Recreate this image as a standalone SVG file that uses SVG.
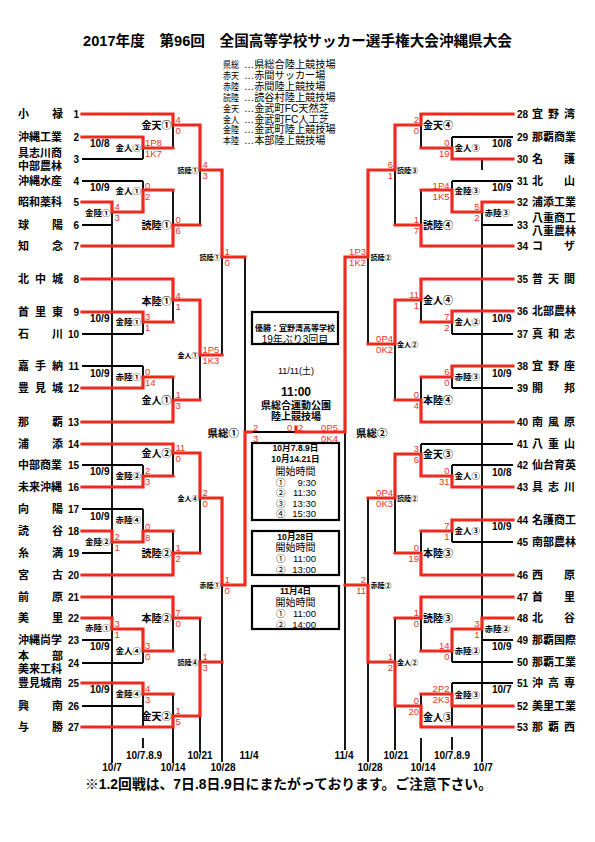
<svg xmlns="http://www.w3.org/2000/svg" width="595" height="842" viewBox="0 0 595 842">
<style>
text{font-family:"Liberation Sans","Noto Sans CJK JP",sans-serif;dominant-baseline:central;fill:#000}
.nm{font-size:11px;font-weight:bold}
.no{font-size:10px;font-weight:bold}
.s{font-size:9.5px;fill:#ee3326}
.s.e{text-anchor:end}
.v1{font-size:10px;font-weight:bold}
.v2{font-size:8.5px;font-weight:bold}
.v3{font-size:7px;font-weight:bold}
.dt{font-size:10px;font-weight:bold}
.lg{font-size:10.2px}
.lgl{font-size:9.5px}
.ctr{text-anchor:middle}
.end{text-anchor:end}
.k{stroke:#000;stroke-width:1.8;fill:none}
.r{stroke:#ee2a1e;stroke-width:3.2;fill:none;stroke-linecap:square;stroke-linejoin:miter}
.bx{fill:#fff;stroke:#000;stroke-width:2.2}
</style>
<rect width="595" height="842" fill="#fff"/>
<g id="title"><text x="83" y="41" font-size="14.5" font-weight="bold" textLength="429" lengthAdjust="spacingAndGlyphs">2017年度　第96回　全国高等学校サッカー選手権大会沖縄県大会</text></g>
<g id="legend">
<text class="lgl" x="223" y="64.5" textLength="16" lengthAdjust="spacingAndGlyphs">県総</text><text class="lg" x="244" y="64.5">…県総合陸上競技場</text>
<text class="lgl" x="223" y="75.4" textLength="16" lengthAdjust="spacingAndGlyphs">赤天</text><text class="lg" x="244" y="75.4">…赤間サッカー場</text>
<text class="lgl" x="223" y="86.3" textLength="16" lengthAdjust="spacingAndGlyphs">赤陸</text><text class="lg" x="244" y="86.3">…赤間陸上競技場</text>
<text class="lgl" x="223" y="97.2" textLength="16" lengthAdjust="spacingAndGlyphs">読陸</text><text class="lg" x="244" y="97.2">…読谷村陸上競技場</text>
<text class="lgl" x="223" y="108.1" textLength="16" lengthAdjust="spacingAndGlyphs">金天</text><text class="lg" x="244" y="108.1">…金武町FC天然芝</text>
<text class="lgl" x="223" y="119" textLength="16" lengthAdjust="spacingAndGlyphs">金人</text><text class="lg" x="244" y="119">…金武町FC人工芝</text>
<text class="lgl" x="223" y="129.9" textLength="16" lengthAdjust="spacingAndGlyphs">金陸</text><text class="lg" x="244" y="129.9">…金武町陸上競技場</text>
<text class="lgl" x="223" y="140.8" textLength="16" lengthAdjust="spacingAndGlyphs">本陸</text><text class="lg" x="244" y="140.8">…本部陸上競技場</text>
</g>
<g id="connectors">
<path class="k" d="M82 159H143M82 181H143M82 225H112M82 334H143M82 366H143M82 465H143M82 509H143M82 553H112M82 640H112M82 663H143M82 706H143
M112 202V763
M143 148V159M143 181V190M143 322V334M143 366V377M143 465V476M143 509V531M143 651V663M143 694V727M143 738V748
M173 125V148M173 190V225M173 300V322M173 377V400M173 453V476M173 531V553M173 618V651M173 694V716M173 727V763
M200 170V225M200 355V400M200 498V553M200 618V662M200 716V752
M222 257V355M222 585V762
M245 257V432M245 432H296"/>
<path class="k" d="M452 137H513M452 181H513M482 225H513M452 334H513M452 388H513M421 444H513M452 465H513M452 542H513M482 640H513M452 662H513M452 683H513
M482 159V170M482 202V762
M452 137V148M452 181V190M452 322V334M452 377V388M452 465V476M452 531V542M452 651V662M452 683V694M452 706V727M452 737V750
M421 125V148M421 190V225M421 300V322M421 377V400M421 444V454M421 531V553M421 618V651M421 694V706M421 738V762
M395 170V225M395 344V400M395 498V553M395 618V662M395 706V750
M368 257V344M368 498V585M368 662V762
M345 432V750"/>
<path class="r" d="M82 114H173V125H200V170H222V257H245
M82 137H143V148H173
M82 202H112V212H143V190H173
M82 246H173V225H200
M82 279H173V300H200V355H222
M82 312H143V322H173
M82 388H143V377H173
M82 422H173V400H200
M82 444H173V453H200V498H222V585H245V432H251
M82 487H143V476H173
M82 531H112V542H143V531H173
M82 575H173V553H200
M82 597H173V618H200
M82 618H112V629H143V651H173
M82 683H143V694H173
M82 727H173V716H200V662H222"/>
<path class="r" d="M513 114H421V125H395V170H368V257H345V432H296V427
M513 159H452V148H421
M513 202H482V212H452V190H421
M513 246H421V225H395
M513 279H421V300H395V344H368
M513 311H452V322H421
M513 366H452V377H421
M513 422H421V400H395
M513 487H452V476H421V454H395V498H368
M513 520H452V531H421
M513 575H421V553H395
M513 597H421V618H395
M513 618H482V629H452V651H421
M513 706H452V694H421
M513 727H421V706H395V662H368V585H345"/>
</g>
<g id="team-1"><text class="nm" x="18 52" y="114">小禄</text><text class="no end" x="79" y="114">1</text></g>
<g id="team-2"><text class="nm" x="18" y="137">沖縄工業</text><text class="no end" x="79" y="137">2</text></g>
<g id="team-3"><text class="nm" x="18" y="153">具志川商</text><text class="nm" x="18" y="166">中部農林</text><text class="no end" x="79" y="159">3</text></g>
<g id="team-4"><text class="nm" x="18" y="181">沖縄水産</text><text class="no end" x="79" y="181">4</text></g>
<g id="team-5"><text class="nm" x="18" y="202">昭和薬科</text><text class="no end" x="79" y="202">5</text></g>
<g id="team-6"><text class="nm" x="18 52" y="225">球陽</text><text class="no end" x="79" y="225">6</text></g>
<g id="team-7"><text class="nm" x="18 52" y="246">知念</text><text class="no end" x="79" y="246">7</text></g>
<g id="team-8"><text class="nm" x="18 35 52" y="279">北中城</text><text class="no end" x="79" y="279">8</text></g>
<g id="team-9"><text class="nm" x="18 35 52" y="312">首里東</text><text class="no end" x="79" y="312">9</text></g>
<g id="team-10"><text class="nm" x="18 52" y="334">石川</text><text class="no end" x="79" y="334">10</text></g>
<g id="team-11"><text class="nm" x="18 35 52" y="366">嘉手納</text><text class="no end" x="79" y="366">11</text></g>
<g id="team-12"><text class="nm" x="18 35 52" y="388">豊見城</text><text class="no end" x="79" y="388">12</text></g>
<g id="team-13"><text class="nm" x="18 52" y="422">那覇</text><text class="no end" x="79" y="422">13</text></g>
<g id="team-14"><text class="nm" x="18 52" y="444">浦添</text><text class="no end" x="79" y="444">14</text></g>
<g id="team-15"><text class="nm" x="18" y="465">中部商業</text><text class="no end" x="79" y="465">15</text></g>
<g id="team-16"><text class="nm" x="18" y="487">未来沖縄</text><text class="no end" x="79" y="487">16</text></g>
<g id="team-17"><text class="nm" x="18 52" y="509">向陽</text><text class="no end" x="79" y="509">17</text></g>
<g id="team-18"><text class="nm" x="18 52" y="531">読谷</text><text class="no end" x="79" y="531">18</text></g>
<g id="team-19"><text class="nm" x="18 52" y="553">糸満</text><text class="no end" x="79" y="553">19</text></g>
<g id="team-20"><text class="nm" x="18 52" y="575">宮古</text><text class="no end" x="79" y="575">20</text></g>
<g id="team-21"><text class="nm" x="18 52" y="597">前原</text><text class="no end" x="79" y="597">21</text></g>
<g id="team-22"><text class="nm" x="18 52" y="618">美里</text><text class="no end" x="79" y="618">22</text></g>
<g id="team-23"><text class="nm" x="18" y="640">沖縄尚学</text><text class="no end" x="79" y="640">23</text></g>
<g id="team-24"><text class="nm" x="18 52" y="656">本部</text><text class="nm" x="18" y="669">美来工科</text><text class="no end" x="79" y="663">24</text></g>
<g id="team-25"><text class="nm" x="18" y="683">豊見城南</text><text class="no end" x="79" y="683">25</text></g>
<g id="team-26"><text class="nm" x="18 52" y="706">興南</text><text class="no end" x="79" y="706">26</text></g>
<g id="team-27"><text class="nm" x="18 52" y="727">与勝</text><text class="no end" x="79" y="727">27</text></g>
<g id="team-28"><text class="no" x="517" y="114">28</text><text class="nm" x="532 548 564" y="114">宜野湾</text></g>
<g id="team-29"><text class="no" x="517" y="137">29</text><text class="nm" x="532" y="137">那覇商業</text></g>
<g id="team-30"><text class="no" x="517" y="159">30</text><text class="nm" x="532 564" y="159">名護</text></g>
<g id="team-31"><text class="no" x="517" y="181">31</text><text class="nm" x="532 564" y="181">北山</text></g>
<g id="team-32"><text class="no" x="517" y="202">32</text><text class="nm" x="532" y="202">浦添工業</text></g>
<g id="team-33"><text class="no" x="517" y="225">33</text><text class="nm" x="532" y="218">八重商工</text><text class="nm" x="532" y="231">八重農林</text></g>
<g id="team-34"><text class="no" x="517" y="246">34</text><text class="nm" x="532 564" y="246">コザ</text></g>
<g id="team-35"><text class="no" x="517" y="279">35</text><text class="nm" x="532 548 564" y="279">普天間</text></g>
<g id="team-36"><text class="no" x="517" y="311">36</text><text class="nm" x="532" y="311">北部農林</text></g>
<g id="team-37"><text class="no" x="517" y="334">37</text><text class="nm" x="532 548 564" y="334">真和志</text></g>
<g id="team-38"><text class="no" x="517" y="366">38</text><text class="nm" x="532 548 564" y="366">宜野座</text></g>
<g id="team-39"><text class="no" x="517" y="388">39</text><text class="nm" x="532 564" y="388">開邦</text></g>
<g id="team-40"><text class="no" x="517" y="422">40</text><text class="nm" x="532 548 564" y="422">南風原</text></g>
<g id="team-41"><text class="no" x="517" y="444">41</text><text class="nm" x="532 548 564" y="444">八重山</text></g>
<g id="team-42"><text class="no" x="517" y="465">42</text><text class="nm" x="532" y="465">仙台育英</text></g>
<g id="team-43"><text class="no" x="517" y="487">43</text><text class="nm" x="532 548 564" y="487">具志川</text></g>
<g id="team-44"><text class="no" x="517" y="520">44</text><text class="nm" x="532" y="520">名護商工</text></g>
<g id="team-45"><text class="no" x="517" y="542">45</text><text class="nm" x="532" y="542">南部農林</text></g>
<g id="team-46"><text class="no" x="517" y="575">46</text><text class="nm" x="532 564" y="575">西原</text></g>
<g id="team-47"><text class="no" x="517" y="597">47</text><text class="nm" x="532 564" y="597">首里</text></g>
<g id="team-48"><text class="no" x="517" y="618">48</text><text class="nm" x="532 564" y="618">北谷</text></g>
<g id="team-49"><text class="no" x="517" y="640">49</text><text class="nm" x="532" y="640">那覇国際</text></g>
<g id="team-50"><text class="no" x="517" y="662">50</text><text class="nm" x="532" y="662">那覇工業</text></g>
<g id="team-51"><text class="no" x="517" y="683">51</text><text class="nm" x="532 548 564" y="683">沖高専</text></g>
<g id="team-52"><text class="no" x="517" y="706">52</text><text class="nm" x="532" y="706">美里工業</text></g>
<g id="team-53"><text class="no" x="517" y="727">53</text><text class="nm" x="532 548 564" y="727">那覇西</text></g>
<g id="matches-left-r0">
<text class="v2 end" x="110.5" y="213">金陸①</text><text class="s" x="114.5" y="206.7">4</text><text class="s" x="114.5" y="217.5">3</text>
<text class="v2 end" x="110.5" y="542">金陸②</text><text class="s" x="114.5" y="536.7">2</text><text class="s" x="114.5" y="547.5">1</text>
<text class="v2 end" x="110.5" y="628">赤陸①</text><text class="s" x="114.5" y="623.7">3</text><text class="s" x="114.5" y="634.5">1</text>
</g>
<g id="matches-left-r1">
<text class="v2 end" x="141" y="148">金人②</text><text class="s" x="145" y="142.7">1P8</text><text class="s" x="145" y="153.5">1K7</text><text class="dt" x="90" y="143">10/8</text>
<text class="v2 end" x="141" y="191">金人①</text><text class="s" x="145" y="185.7">0</text><text class="s" x="145" y="196.5">2</text><text class="dt" x="90" y="187">10/9</text>
<text class="v2 end" x="141" y="322">金陸①</text><text class="s" x="145" y="316.7">3</text><text class="s" x="145" y="327.5">1</text><text class="dt" x="90" y="318">10/9</text>
<text class="v2 end" x="141" y="377">赤陸①</text><text class="s" x="145" y="371.7">0</text><text class="s" x="145" y="382.5">14</text><text class="dt" x="90" y="373">10/9</text>
<text class="v2 end" x="141" y="476">金陸②</text><text class="s" x="145" y="470.7">2</text><text class="s" x="145" y="481.5">3</text><text class="dt" x="90" y="471">10/9</text>
<text class="v2 end" x="141" y="520">赤陸④</text><text class="s" x="145" y="526">0</text><text class="s" x="145" y="537">8</text><text class="dt" x="90" y="516">10/9</text>
<text class="v2 end" x="141" y="651">金人④</text><text class="s" x="145" y="645.7">3</text><text class="s" x="145" y="656.5">0</text><text class="dt" x="90" y="646">10/9</text>
<text class="v2 end" x="141" y="694">金陸④</text><text class="s" x="145" y="688.7">4</text><text class="s" x="145" y="699.5">3</text><text class="dt" x="90" y="689">10/9</text>
</g>
<g id="matches-left-r2">
<text class="v1 end" x="171.5" y="125">金天①</text><text class="s" x="175.5" y="119.7">4</text><text class="s" x="175.5" y="130.5">0</text>
<text class="v1 end" x="171.5" y="225">読陸①</text><text class="s" x="175.5" y="219.7">0</text><text class="s" x="175.5" y="230.5">6</text>
<text class="v1 end" x="171.5" y="301">本陸①</text><text class="s" x="175.5" y="295.7">4</text><text class="s" x="175.5" y="306.5">1</text>
<text class="v1 end" x="171.5" y="400">金人①</text><text class="s" x="175.5" y="394.7">1</text><text class="s" x="175.5" y="405.5">3</text>
<text class="v1 end" x="171.5" y="453">金人②</text><text class="s" x="175.5" y="447.7">11</text><text class="s" x="175.5" y="458.5">0</text>
<text class="v1 end" x="171.5" y="553">読陸②</text><text class="s" x="175.5" y="547.7">1</text><text class="s" x="175.5" y="558.5">2</text>
<text class="v1 end" x="171.5" y="618">本陸②</text><text class="s" x="175.5" y="612.7">7</text><text class="s" x="175.5" y="623.5">0</text>
<text class="v1 end" x="171.5" y="716">金天②</text><text class="s" x="175.5" y="710.7">1</text><text class="s" x="175.5" y="721.5">5</text>
</g>
<g id="matches-left-r3">
<text class="v3 end" x="198.5" y="170">読陸①</text><text class="s" x="202.5" y="164.7">4</text><text class="s" x="202.5" y="175.5">3</text>
<text class="v3 end" x="198.5" y="355">金人①</text><text class="s" x="202.5" y="349.7">1P5</text><text class="s" x="202.5" y="360.5">1K3</text>
<text class="v3 end" x="198.5" y="498">金人④</text><text class="s" x="202.5" y="492.7">2</text><text class="s" x="202.5" y="503.5">0</text>
<text class="v3 end" x="198.5" y="662">読陸④</text><text class="s" x="202.5" y="656.7">1</text><text class="s" x="202.5" y="667.5">3</text>
</g>
<g id="matches-left-r4">
<text class="v3 end" x="220.5" y="257">読陸①</text><text class="s" x="224.5" y="251.7">1</text><text class="s" x="224.5" y="262.5">0</text>
<text class="v3 end" x="220.5" y="585">赤陸①</text><text class="s" x="224.5" y="579.7">1</text><text class="s" x="224.5" y="590.5">0</text>
</g>
<g id="semi-left"><text class="end" x="239" y="433" font-size="10.5" font-weight="bold">県総①</text><text class="s" x="253" y="427">2</text><text class="s" x="253" y="438">3</text></g>
<g id="matches-right-r0">
<text class="v2" x="484.5" y="213">赤陸③</text><text class="s e" x="479.5" y="206.7">5</text><text class="s e" x="479.5" y="217.5">2</text>
<text class="v2" x="484.5" y="629">赤陸②</text><text class="s e" x="479.5" y="623.7">3</text><text class="s e" x="479.5" y="634.5">1</text>
</g>
<g id="matches-right-r1">
<text class="v2" x="454.5" y="148">金人③</text><text class="s e" x="449.5" y="142.7">0</text><text class="s e" x="449.5" y="153.5">19</text><text class="dt" x="492" y="143">10/8</text>
<text class="v2" x="454.5" y="191">金陸③</text><text class="s e" x="449.5" y="185.7">1P4</text><text class="s e" x="449.5" y="196.5">1K5</text><text class="dt" x="492" y="187">10/9</text>
<text class="v2" x="454.5" y="322">金人②</text><text class="s e" x="449.5" y="316.7">7</text><text class="s e" x="449.5" y="327.5">2</text><text class="dt" x="492" y="318">10/9</text>
<text class="v2" x="454.5" y="377">赤陸③</text><text class="s e" x="449.5" y="371.7">6</text><text class="s e" x="449.5" y="382.5">0</text><text class="dt" x="492" y="373">10/9</text>
<text class="v2" x="454.5" y="476">金人①</text><text class="s e" x="449.5" y="470.7">0</text><text class="s e" x="449.5" y="481.5">31</text><text class="dt" x="492" y="472">10/8</text>
<text class="v2" x="454.5" y="531">金人③</text><text class="s e" x="449.5" y="525.7">7</text><text class="s e" x="449.5" y="536.5">1</text><text class="dt" x="492" y="526">10/9</text>
<text class="v2" x="454.5" y="651">赤陸②</text><text class="s e" x="449.5" y="645.7">14</text><text class="s e" x="449.5" y="656.5">0</text><text class="dt" x="492" y="646">10/9</text>
<text class="v2" x="454.5" y="695">金陸③</text><text class="s e" x="449.5" y="688.7">2P2</text><text class="s e" x="449.5" y="699.5">2K3</text><text class="dt" x="492" y="689">10/7</text>
</g>
<g id="matches-right-r2">
<text class="v1" x="423" y="125">金天④</text><text class="s e" x="419" y="119.7">2</text><text class="s e" x="419" y="130.5">0</text>
<text class="v1" x="423" y="225">読陸④</text><text class="s e" x="419" y="219.7">1</text><text class="s e" x="419" y="230.5">7</text>
<text class="v1" x="423" y="300">金人④</text><text class="s e" x="419" y="294.7">11</text><text class="s e" x="419" y="305.5">1</text>
<text class="v1" x="423" y="400">本陸④</text><text class="s e" x="419" y="394.7">0</text><text class="s e" x="419" y="405.5">4</text>
<text class="v1" x="423" y="454">金天③</text><text class="s e" x="419" y="448.7">3</text><text class="s e" x="419" y="459.5">6</text>
<text class="v1" x="423" y="553">本陸③</text><text class="s e" x="419" y="547.7">0</text><text class="s e" x="419" y="558.5">19</text>
<text class="v1" x="423" y="618">読陸③</text><text class="s e" x="419" y="612.7">1</text><text class="s e" x="419" y="623.5">0</text>
<text class="v1" x="423" y="717">金人③</text><text class="s e" x="419" y="700.7">0</text><text class="s e" x="419" y="711.5">20</text>
</g>
<g id="matches-right-r3">
<text class="v3" x="397" y="170">読陸③</text><text class="s e" x="393" y="164.7">6</text><text class="s e" x="393" y="175.5">1</text>
<text class="v3" x="397" y="344">金人②</text><text class="s e" x="393" y="338.7">0P4</text><text class="s e" x="393" y="349.5">0K2</text>
<text class="v3" x="397" y="498">読陸②</text><text class="s e" x="393" y="492.7">0P4</text><text class="s e" x="393" y="503.5">0K3</text>
<text class="v3" x="397" y="662">金人②</text><text class="s e" x="393" y="656.7">1</text><text class="s e" x="393" y="667.5">2</text>
</g>
<g id="matches-right-r4">
<text class="v3" x="370.5" y="257">読陸②</text><text class="s e" x="366" y="251.7">1P3</text><text class="s e" x="366" y="262.5">1K2</text>
<text class="v3" x="370.5" y="585">赤陸②</text><text class="s e" x="366" y="579.7">2</text><text class="s e" x="366" y="590.5">11</text>
</g>
<g id="semi-right"><text x="356" y="433" font-size="10.5" font-weight="bold">県総②</text><text class="s e" x="338" y="427">0P5</text><text class="s e" x="338" y="438">0K4</text></g>
<g id="final"><text class="s" x="287" y="427">0</text><text class="s" x="298" y="427">2</text></g>
<g id="champion">
<rect class="bx" x="252" y="312" width="86" height="32"/>
<text class="ctr" x="295" y="328" font-size="8" font-weight="bold">優勝：宜野湾高等学校</text>
<text class="ctr" x="295" y="339" font-size="10">19年ぶり3回目</text>
</g>
<g id="final-info">
<text class="ctr" x="296" y="371" font-size="9">11/11(土)</text>
<text class="ctr" x="296" y="392" font-size="12" font-weight="bold">11:00</text>
<text class="ctr" x="296" y="405" font-size="10" font-weight="bold">県総合運動公園</text>
<text class="ctr" x="296" y="416.5" font-size="10" font-weight="bold">陸上競技場</text>
</g>
<g id="schedule-1">
<rect class="bx" x="252" y="443" width="87" height="77"/>
<text class="ctr" x="295.5" y="448" font-size="8.6" font-weight="bold">10月7.8.9日</text>
<text class="ctr" x="295.5" y="459" font-size="8.6" font-weight="bold">10月14.21日</text>
<text class="ctr" x="295.5" y="471" font-size="10">開始時間</text>
<text x="276" y="482" font-size="9.5">①</text><text class="end" x="316" y="482" font-size="9.5">9:30</text>
<text x="276" y="492.5" font-size="9.5">②</text><text class="end" x="316" y="492.5" font-size="9.5">11:30</text>
<text x="276" y="503" font-size="9.5">③</text><text class="end" x="316" y="503" font-size="9.5">13:30</text>
<text x="276" y="513.5" font-size="9.5">④</text><text class="end" x="316" y="513.5" font-size="9.5">15:30</text>
</g>
<g id="schedule-2">
<rect class="bx" x="252" y="531" width="87" height="44"/>
<text class="ctr" x="295.5" y="536.5" font-size="8.6" font-weight="bold">10月28日</text>
<text class="ctr" x="295.5" y="547" font-size="10">開始時間</text>
<text x="276" y="558" font-size="9.5">①</text><text class="end" x="316" y="558" font-size="9.5">11:00</text>
<text x="276" y="569" font-size="9.5">②</text><text class="end" x="316" y="569" font-size="9.5">13:00</text>
</g>
<g id="schedule-3">
<rect class="bx" x="252" y="586" width="87" height="43"/>
<text class="ctr" x="295.5" y="591" font-size="8.6" font-weight="bold">11月4日</text>
<text class="ctr" x="295.5" y="602" font-size="10">開始時間</text>
<text x="276" y="613" font-size="9.5">①</text><text class="end" x="316" y="613" font-size="9.5">11:00</text>
<text x="276" y="624" font-size="9.5">②</text><text class="end" x="316" y="624" font-size="9.5">14:00</text>
</g>
<g id="round-dates" class="dt">
<text class="ctr" x="112" y="767">10/7</text><text class="ctr" x="144" y="755">10/7.8.9</text><text class="ctr" x="173" y="767">10/14</text><text class="ctr" x="200" y="755">10/21</text><text class="ctr" x="223" y="767">10/28</text><text class="ctr" x="249" y="755">11/4</text>
<text class="ctr" x="344" y="755">11/4</text><text class="ctr" x="370" y="767">10/28</text><text class="ctr" x="396" y="755">10/21</text><text class="ctr" x="423" y="767">10/14</text><text class="ctr" x="452" y="755">10/7.8.9</text><text class="ctr" x="483" y="767">10/7</text>
</g>
<g id="footer"><text x="85" y="784" font-size="14" font-weight="bold" textLength="407" lengthAdjust="spacingAndGlyphs">※1.2回戦は、7日.8日.9日にまたがっております。ご注意下さい。</text></g>
</svg>
